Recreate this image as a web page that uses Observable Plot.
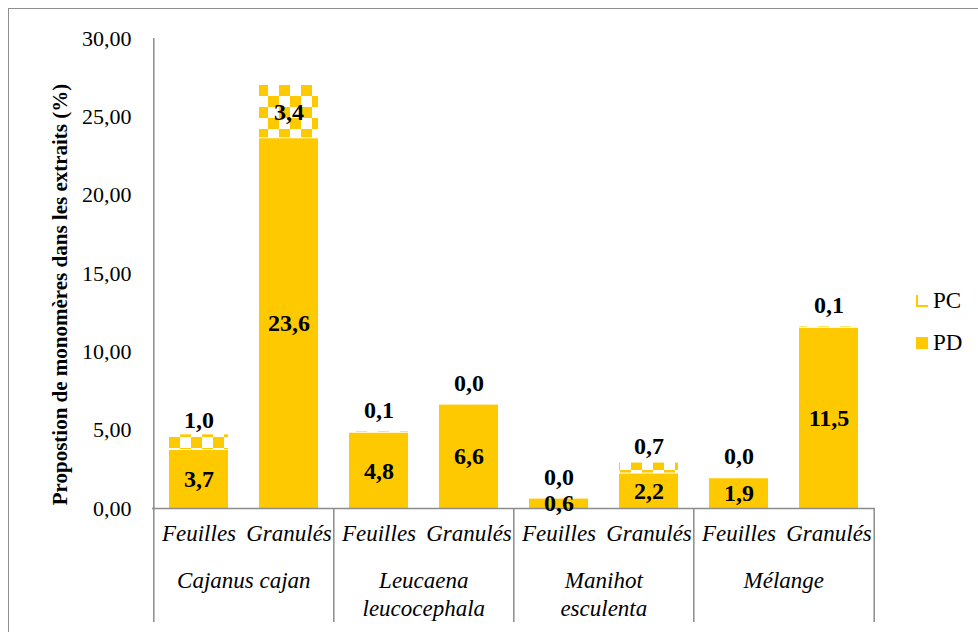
<!DOCTYPE html>
<html>
<head>
<meta charset="utf-8">
<script src="https://cdn.jsdelivr.net/npm/d3@7"></script>
<script src="https://cdn.jsdelivr.net/npm/@observablehq/plot@0.6"></script>
<style>
  body { margin: 0; background: #fff; }
  #wrap { position: relative; width: 978px; height: 632px; overflow: hidden;
          font-family: "Liberation Serif", "Times New Roman", serif; background: #fff; }
  #wrap svg { position: absolute; left: 0; top: 0; }
  #wrap svg text { font-family: "Liberation Serif", "Times New Roman", serif !important; }
  .border-top { position: absolute; left: 8px; top: 8px; right: 0; height: 0; border-top: 1.5px solid #8e8e8e; }
  .border-left { position: absolute; left: 8px; top: 8px; bottom: 0; width: 0; border-left: 1.5px solid #8e8e8e; }
  .leg { position: absolute; left: 916px; font-size: 23px; line-height: 1; display: flex; align-items: center; color: #000;
         font-family: "Liberation Serif", "Times New Roman", serif; }
  .sw { width: 12px; height: 12px; margin-right: 5px; box-sizing: border-box; }
  .sw-pd { background: #FFC900; }
  .sw-pc { border-left: 2px solid #FFC900; border-bottom: 2px solid #FFC900; }
</style>
</head>
<body>
<div id="wrap"></div>
<script>
// ---- data ----
const groups = ["Cajanus cajan", "Leucaena\nleucocephala", "Manihot\nesculenta", "Mélange"];
const parts = ["Feuilles", "Granulés"];
const seriesNames = ["PC", "PD"];
const pdValues = [3.7, 23.6, 4.8, 6.6, 0.6, 2.2, 1.9, 11.5];
const pcValues = [1.0, 3.4, 0.1, 0.0, 0.0, 0.7, 0.0, 0.1];
const yTicks = [0, 5, 10, 15, 20, 25, 30];
const yTitle = "Propostion de monomères dans les extraits (%)";

const gold = "#FFC900";
const axisGray = "#8c8c8c";
const serif = '"Liberation Serif", "Times New Roman", serif';

const rows = pdValues.map((pd, i) => ({
  key: groups[Math.floor(i / 2)] + "|" + parts[i % 2],
  group: groups[Math.floor(i / 2)],
  part: parts[i % 2],
  pd,
  pc: pcValues[i]
}));
const keys = rows.map(d => d.key);
const groupStarts = rows.filter(d => d.part === parts[0]);
const groupEnds = rows.filter(d => d.part === parts[1]);

const W = 978, H = 632, mL = 152, mR = 103, mT = 38, mB = 124;
const step = (W - mL - mR) / keys.length;
const fmt1 = v => v.toFixed(1).replace(".", ",");
const fmt2 = v => v.toFixed(2).replace(".", ",");

const plot = Plot.plot({
  width: W,
  height: H,
  marginLeft: mL,
  marginRight: mR,
  marginTop: mT,
  marginBottom: mB,
  style: { fontFamily: serif, fontSize: "22px", color: "#000", background: "transparent", overflow: "visible" },
  x: { domain: keys, paddingInner: 0.35, paddingOuter: 0.175, axis: null },
  y: { domain: [0, 30], ticks: yTicks, tickFormat: fmt2, tickSize: 0, tickPadding: 21, label: null },
  marks: [
    // bars
    Plot.barY(rows, { x: "key", y1: 0, y2: "pd", fill: gold }),
    Plot.barY(rows, { x: "key", y1: "pd", y2: d => d.pd + d.pc, fill: "url(#checker)", insetBottom: 1 }),
    // axis lines
    Plot.ruleY([0], { stroke: axisGray, strokeWidth: 1.5 }),
    Plot.ruleX([keys[0]], { y1: 0, y2: 30, dx: -step / 2, stroke: axisGray, strokeWidth: 1.5 }),
    // group separators below axis
    Plot.ruleX(groupStarts, { x: "key", dx: -step / 2, insetTop: H - mT - mB, insetBottom: -114, stroke: axisGray, strokeWidth: 1.5 }),
    Plot.ruleX([groupEnds[groupEnds.length - 1]], { x: "key", dx: step / 2, insetTop: H - mT - mB, insetBottom: -114, stroke: axisGray, strokeWidth: 1.5 }),
    // category labels
    Plot.text(rows, { x: "key", text: "part", frameAnchor: "bottom", dy: 32, fontStyle: "italic", fontSize: 23, fontFamily: serif, fill: "#000" }),
    Plot.text(groupEnds, { x: "key", text: "group", frameAnchor: "bottom", dx: -step / 2, dy: 60, lineAnchor: "top", lineHeight: 1.2, fontStyle: "italic", fontSize: 23, fontFamily: serif, fill: "#000" }),
    // value labels
    Plot.text(rows, { x: "key", y: d => d.pd / 2, text: d => fmt1(d.pd), fontWeight: "bold", fontSize: 24, fontFamily: serif, fill: "#000" }),
    Plot.text(rows.filter(d => d.pc >= 2), { x: "key", y: d => d.pd + d.pc / 2, text: d => fmt1(d.pc), fontWeight: "bold", fontSize: 24, fontFamily: serif, fill: "#000" }),
    Plot.text(rows.filter(d => d.pc < 2), { x: "key", y: d => d.pd + d.pc / 2, dy: -22, text: d => fmt1(d.pc), fontWeight: "bold", fontSize: 24, fontFamily: serif, fill: "#000" }),
    // y title
    Plot.text([yTitle], { frameAnchor: "left", textAnchor: "middle", rotate: -90, dx: -92, dy: 21, fontWeight: "bold", fontSize: 21, fontFamily: serif, fill: "#000" })
  ]
});

// checkerboard pattern for PC
const defs = d3.select(plot).insert("defs", ":first-child");
const pat = defs.append("pattern")
  .attr("id", "checker")
  .attr("patternUnits", "userSpaceOnUse")
  .attr("width", 22).attr("height", 22)
  .attr("x", 4).attr("y", 8);
pat.append("rect").attr("width", 22).attr("height", 22).attr("fill", "#fff");
pat.append("rect").attr("width", 11).attr("height", 11).attr("fill", gold);
pat.append("rect").attr("x", 11).attr("y", 11).attr("width", 11).attr("height", 11).attr("fill", gold);

const wrap = document.getElementById("wrap");
wrap.appendChild(plot);

const bt = document.createElement("div"); bt.className = "border-top"; wrap.appendChild(bt);
const bl = document.createElement("div"); bl.className = "border-left"; wrap.appendChild(bl);

// legend
const legTops = { PC: 289, PD: 331 };
seriesNames.forEach(name => {
  const item = document.createElement("div");
  item.className = "leg";
  item.style.top = legTops[name] + "px";
  const sw = document.createElement("div");
  sw.className = "sw " + (name === "PD" ? "sw-pd" : "sw-pc");
  const lab = document.createElement("span");
  lab.textContent = name;
  item.appendChild(sw);
  item.appendChild(lab);
  wrap.appendChild(item);
});
</script>
</body>
</html>
